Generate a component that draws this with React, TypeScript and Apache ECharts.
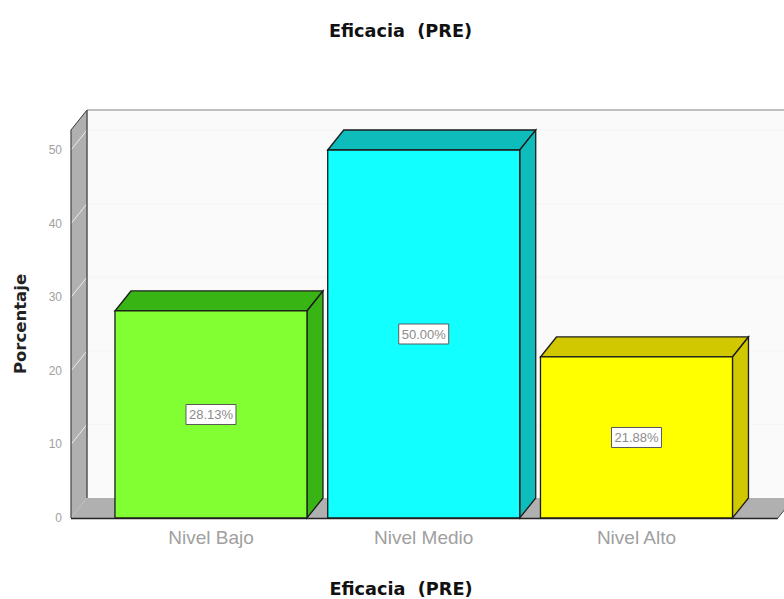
import React, { useEffect, useRef } from "react";
import * as echarts from "echarts";

// Percentages by level, with the face and shaded colours of each column.
const categories = ["Nivel Bajo", "Nivel Medio", "Nivel Alto"];
const percentages = [28.13, 50.0, 21.88];
const valueLabels = ["28.13%", "50.00%", "21.88%"];
const faceColors = ["#82ff33", "#12ffff", "#ffff00"];
const shadeColors = ["#38b414", "#0fbcbc", "#d2c800"];
const gridTicks = [10, 20, 30, 40, 50];
const titleText = "Eficacia  (PRE)";
const yAxisTitle = "Porcentaje";

const DEPTH_X = 16;
const DEPTH_Y = -20;
const EDGE = "#1c1c1c";
const WALL = "#b0b0b0";
const TITLE_FONT = "DejaVu Sans";

const poly = (points: number[][], fill: string, stroke = EDGE, lineWidth = 1.3) => ({
  type: "polygon",
  shape: { points },
  style: { fill, stroke, lineWidth },
});

const seg = (a: number[], b: number[], stroke: string, lineWidth = 1) => ({
  type: "line",
  shape: { x1: a[0], y1: a[1], x2: b[0], y2: b[1] },
  style: { stroke, lineWidth },
});

// Side wall, floor and back wall of the box, placed from the value scale.
const renderWalls = (params: any, api: any) => {
  const cs = params.coordSys;
  const left = cs.x - 33.6;
  const right = cs.x + cs.width + 35;
  const base = api.coord([0, 0])[1];
  const top = cs.y;
  const children: any[] = [
    poly(
      [[left + DEPTH_X, top + DEPTH_Y], [right + DEPTH_X, top + DEPTH_Y], [right + DEPTH_X, base + DEPTH_Y], [left + DEPTH_X, base + DEPTH_Y]],
      "#fafafa",
      "none",
      0,
    ),
    seg([left + DEPTH_X, top + DEPTH_Y], [right + DEPTH_X, top + DEPTH_Y], "#ababab", 1.5),
  ];
  gridTicks.forEach((t) => {
    const y = api.coord([0, t])[1];
    children.push(seg([left + DEPTH_X, y + DEPTH_Y], [right + DEPTH_X, y + DEPTH_Y], "#f4f4f4", 1));
  });
  children.push(
    poly(
      [[left, top], [left + DEPTH_X, top + DEPTH_Y], [left + DEPTH_X, base + DEPTH_Y], [left, base]],
      WALL,
      "none",
      0,
    ),
    poly(
      [[left, base], [left + DEPTH_X, base + DEPTH_Y], [right + DEPTH_X, base + DEPTH_Y], [right, base]],
      WALL,
      "none",
      0,
    ),
  );
  gridTicks.forEach((t) => {
    const y = api.coord([0, t])[1];
    children.push(seg([left, y], [left + DEPTH_X, y + DEPTH_Y], "#ececec", 1));
  });
  children.push(
    seg([left, top], [left + DEPTH_X, top + DEPTH_Y], "#333", 1),
    seg([left, top], [left, base], "#444", 1.2),
    seg([left + DEPTH_X, top + DEPTH_Y], [left + DEPTH_X, base + DEPTH_Y], "#555", 1.5),
    seg([left, base + 0.5], [right, base + 0.5], "#222", 1.4),
    seg([right, base], [right + DEPTH_X, base + DEPTH_Y], "#444", 1),
  );
  return { type: "group", children };
};

// One column: front face, top, shaded side and the boxed value at mid-height.
const renderColumn = (params: any, api: any) => {
  const i = api.value(0);
  const value = api.value(1);
  const [cx, yTop] = api.coord([i, value]);
  const yBase = api.coord([i, 0])[1];
  const half = (api.size([1, 0])[0] * 0.9025) / 2;
  const l = cx - half;
  const r = cx + half;
  const labelY = api.coord([i, value / 2])[1];
  return {
    type: "group",
    children: [
      poly([[l, yTop], [l + DEPTH_X, yTop + DEPTH_Y], [r + DEPTH_X, yTop + DEPTH_Y], [r, yTop]], shadeColors[i]),
      poly([[r, yTop], [r + DEPTH_X, yTop + DEPTH_Y], [r + DEPTH_X, yBase + DEPTH_Y], [r, yBase]], shadeColors[i]),
      poly([[l, yTop], [r, yTop], [r, yBase], [l, yBase]], faceColors[i]),
      {
        type: "rect",
        shape: { x: cx - 25, y: labelY - 10, width: 50, height: 20 },
        style: { fill: "#ffffff", stroke: "#5a5a5a", lineWidth: 1 },
      },
      {
        type: "text",
        x: cx,
        y: labelY,
        style: {
          text: valueLabels[i],
          fill: "#8c8c8c",
          font: "13px 'Liberation Sans'",
          align: "center",
          verticalAlign: "middle",
        },
      },
    ],
  };
};

export default function App() {
  const ref = useRef<HTMLDivElement>(null);

  useEffect(() => {
    const chart = echarts.init(ref.current!, undefined, { renderer: "svg" });
    chart.setOption({
      animation: false,
      backgroundColor: "#ffffff",
      title: {
        text: titleText,
        left: 395.5,
        top: 17,
        textAlign: "center",
        textStyle: { fontFamily: TITLE_FONT, fontWeight: "bold", fontSize: 17.7, color: "#111111" },
      },
      graphic: [
        {
          type: "text",
          x: 401,
          y: 589,
          style: {
            text: titleText,
            fill: "#111111",
            font: `bold 17.7px '${TITLE_FONT}'`,
            align: "center",
            verticalAlign: "middle",
          },
        },
      ],
      grid: { left: 104.6, right: 41.15, top: 130, bottom: 81 },
      xAxis: {
        type: "category",
        data: categories,
        axisLine: { show: false },
        axisTick: { show: false },
        axisLabel: { fontFamily: "Liberation Sans", fontSize: 19, color: "#a0a0a0", margin: 10 },
      },
      yAxis: {
        type: "value",
        min: 0,
        max: 52.72,
        interval: 10,
        offset: 33.6,
        name: yAxisTitle,
        nameLocation: "middle",
        nameRotate: 90,
        nameGap: 42,
        nameTextStyle: { fontFamily: TITLE_FONT, fontWeight: "bold", fontSize: 16.5, color: "#222222" },
        axisLine: { show: false },
        axisTick: { show: false },
        splitLine: { show: false },
        axisLabel: {
          fontFamily: "Liberation Sans",
          fontSize: 12,
          color: "#a0a0a0",
          margin: 9,
          showMaxLabel: false,
        },
      },
      series: [
        {
          type: "custom",
          silent: true,
          clip: false,
          z: 1,
          data: [[0, 0]],
          renderItem: renderWalls,
        },
        {
          type: "custom",
          silent: true,
          clip: false,
          z: 2,
          encode: { x: 0, y: 1 },
          data: percentages.map((v, i) => [i, v]),
          renderItem: renderColumn,
        },
      ],
    });
    return () => chart.dispose();
  }, []);

  return <div ref={ref} style={{ position: "absolute", left: 0, top: 0, width: 784, height: 599 }} />;
}
